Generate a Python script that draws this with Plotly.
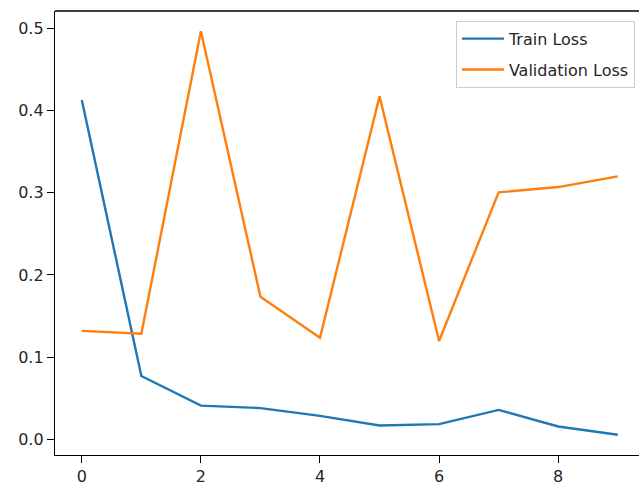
import plotly.graph_objects as go

epochs = [0, 1, 2, 3, 4, 5, 6, 7, 8, 9]
train_loss = [0.413, 0.077, 0.041, 0.038, 0.0285, 0.0168, 0.0185, 0.0358, 0.0156, 0.0055]
val_loss = [0.132, 0.1285, 0.4967, 0.1735, 0.1237, 0.4174, 0.1197, 0.3005, 0.307, 0.320]
x_ticks = [0, 2, 4, 6, 8]
y_ticks = [0.0, 0.1, 0.2, 0.3, 0.4, 0.5]

fig = go.Figure()
fig.add_trace(go.Scatter(x=epochs, y=train_loss, mode="lines", name="Train Loss",
                         line=dict(color="#1f77b4", width=2.4), legendgroup="a"))
fig.add_trace(go.Scatter(x=epochs, y=val_loss, mode="lines", name="Validation Loss",
                         line=dict(color="#ff7f0e", width=2.4), legendgroup="b"))

font = dict(family="DejaVu Sans", size=16, color="#262626")
axis_common = dict(showgrid=False, zeroline=False, showline=True, linecolor="black",
                   linewidth=1.3, ticks="outside", ticklen=7, tickwidth=1.3,
                   tickcolor="black", tickfont=font)

fig.update_layout(
    width=639, height=486,
    margin=dict(l=55, r=0, t=11, b=31),
    paper_bgcolor="white", plot_bgcolor="white",
    font=font,
    showlegend=True,
    legend=dict(x=0.993, y=0.978, xanchor="right", yanchor="top",
                bgcolor="rgba(255,255,255,0.8)", bordercolor="#cccccc", borderwidth=1,
                font=font, tracegroupgap=7, traceorder="grouped", itemwidth=42),
    xaxis=dict(range=[-0.45, 9.357], tickvals=x_ticks, ticktext=[str(v) for v in x_ticks],
               **axis_common),
    yaxis=dict(range=[-0.0191, 0.5213], tickvals=y_ticks,
               ticktext=[f"{v:.1f}" for v in y_ticks], **axis_common),
    shapes=[dict(type="line", xref="paper", yref="paper", x0=0, x1=1, y0=1, y1=1,
                 line=dict(color="black", width=1.3))],
)

fig.write_html("out.html", config={"displayModeBar": False},
               post_script="document.body.style.margin='0';document.body.style.overflow='hidden';")
